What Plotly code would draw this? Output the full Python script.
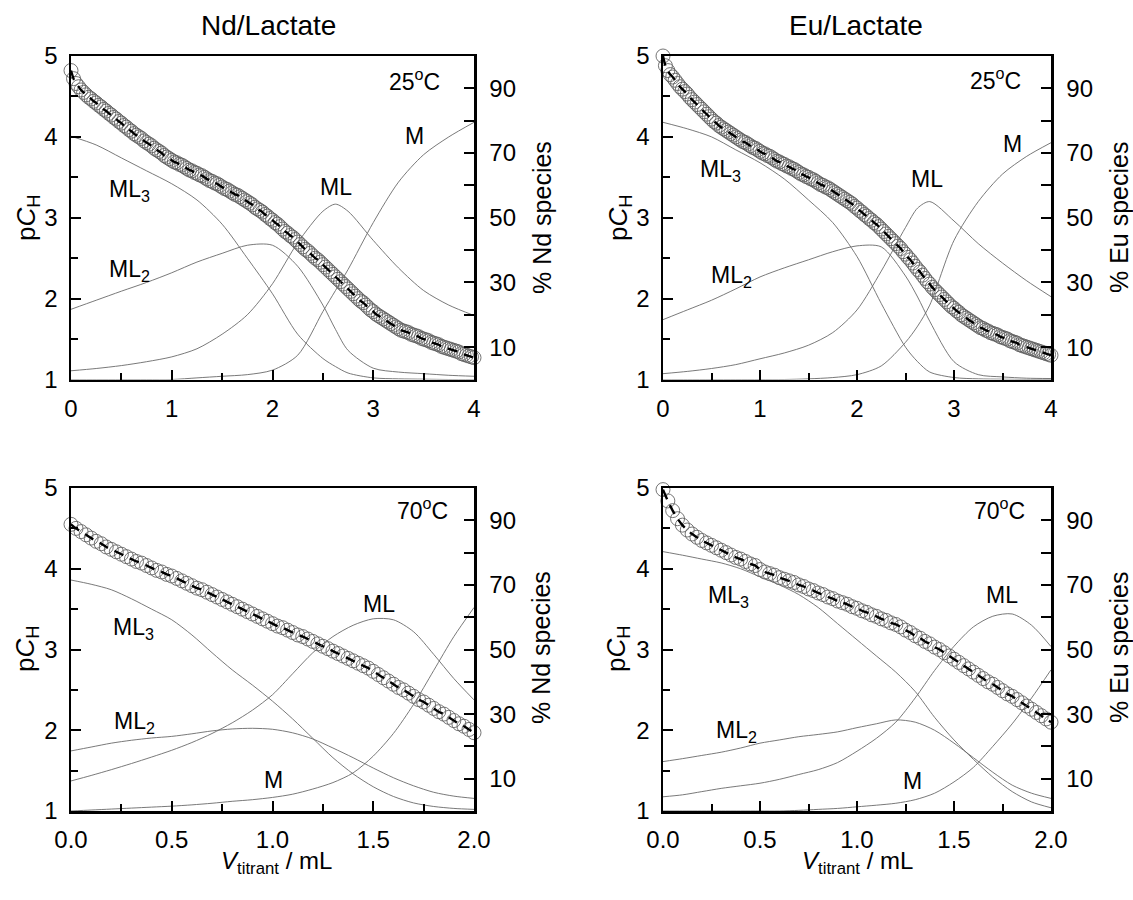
import plotly.graph_objects as go

W, H = 1133, 900
FONT = "Liberation Sans, Arial, sans-serif"

# ---------------- DATA ----------------
# Top row (25 C): titrant volume of measured points (mL)
vol_top = [
    0.000, 0.025, 0.050, 0.075, 0.100, 0.125, 0.150, 0.175, 0.200, 0.225,
    0.250, 0.275, 0.300, 0.325, 0.350, 0.375, 0.400, 0.425, 0.450, 0.475,
    0.500, 0.525, 0.550, 0.575, 0.600, 0.625, 0.650, 0.675, 0.700, 0.725,
    0.750, 0.775, 0.800, 0.825, 0.850, 0.875, 0.900, 0.925, 0.950, 0.975,
    1.000, 1.025, 1.050, 1.075, 1.100, 1.125, 1.150, 1.175, 1.200, 1.225,
    1.250, 1.275, 1.300, 1.325, 1.350, 1.375, 1.400, 1.425, 1.450, 1.475,
    1.500, 1.525, 1.550, 1.575, 1.600, 1.625, 1.650, 1.675, 1.700, 1.725,
    1.750, 1.775, 1.800, 1.825, 1.850, 1.875, 1.900, 1.925, 1.950, 1.975,
    2.000, 2.025, 2.050, 2.075, 2.100, 2.125, 2.150, 2.175, 2.200, 2.225,
    2.250, 2.275, 2.300, 2.325, 2.350, 2.375, 2.400, 2.425, 2.450, 2.475,
    2.500, 2.525, 2.550, 2.575, 2.600, 2.625, 2.650, 2.675, 2.700, 2.725,
    2.750, 2.775, 2.800, 2.825, 2.850, 2.875, 2.900, 2.925, 2.950, 2.975,
    3.000, 3.025, 3.050, 3.075, 3.100, 3.125, 3.150, 3.175, 3.200, 3.225,
    3.250, 3.275, 3.300, 3.325, 3.350, 3.375, 3.400, 3.425, 3.450, 3.475,
    3.500, 3.525, 3.550, 3.575, 3.600, 3.625, 3.650, 3.675, 3.700, 3.725,
    3.750, 3.775, 3.800, 3.825, 3.850, 3.875, 3.900, 3.925, 3.950, 3.975,
    4.000]
nd25_pch = [
    4.82, 4.72, 4.66, 4.62, 4.58, 4.55, 4.52, 4.49, 4.47, 4.44,
    4.42, 4.39, 4.37, 4.34, 4.32, 4.29, 4.27, 4.24, 4.22, 4.19,
    4.17, 4.14, 4.12, 4.09, 4.07, 4.04, 4.02, 4.00, 3.98, 3.95,
    3.93, 3.91, 3.89, 3.86, 3.84, 3.82, 3.80, 3.77, 3.75, 3.73,
    3.71, 3.69, 3.68, 3.66, 3.65, 3.63, 3.61, 3.59, 3.58, 3.56,
    3.55, 3.53, 3.52, 3.50, 3.48, 3.46, 3.45, 3.43, 3.42, 3.40,
    3.38, 3.36, 3.35, 3.33, 3.31, 3.29, 3.28, 3.26, 3.24, 3.22,
    3.20, 3.18, 3.16, 3.13, 3.11, 3.09, 3.07, 3.04, 3.02, 2.99,
    2.97, 2.94, 2.92, 2.89, 2.86, 2.83, 2.81, 2.78, 2.76, 2.73,
    2.70, 2.67, 2.64, 2.61, 2.59, 2.56, 2.53, 2.50, 2.48, 2.45,
    2.42, 2.39, 2.36, 2.33, 2.30, 2.27, 2.24, 2.21, 2.18, 2.15,
    2.12, 2.09, 2.06, 2.03, 2.00, 1.97, 1.95, 1.92, 1.89, 1.86,
    1.84, 1.81, 1.79, 1.77, 1.75, 1.73, 1.71, 1.69, 1.67, 1.65,
    1.63, 1.61, 1.60, 1.59, 1.58, 1.56, 1.55, 1.54, 1.53, 1.51,
    1.50, 1.49, 1.48, 1.46, 1.45, 1.44, 1.43, 1.41, 1.40, 1.39,
    1.38, 1.37, 1.36, 1.35, 1.34, 1.32, 1.31, 1.30, 1.29, 1.28,
    1.27]
eu25_pch = [
    5.00, 4.88, 4.82, 4.77, 4.74, 4.70, 4.66, 4.62, 4.59, 4.56,
    4.53, 4.49, 4.46, 4.43, 4.40, 4.37, 4.34, 4.31, 4.28, 4.25,
    4.22, 4.19, 4.17, 4.14, 4.12, 4.10, 4.08, 4.06, 4.04, 4.02,
    4.00, 3.98, 3.96, 3.94, 3.93, 3.91, 3.89, 3.87, 3.86, 3.84,
    3.82, 3.80, 3.79, 3.77, 3.76, 3.74, 3.72, 3.70, 3.69, 3.67,
    3.66, 3.64, 3.63, 3.61, 3.60, 3.58, 3.56, 3.54, 3.53, 3.51,
    3.50, 3.48, 3.47, 3.45, 3.43, 3.41, 3.40, 3.38, 3.37, 3.35,
    3.33, 3.31, 3.29, 3.27, 3.25, 3.23, 3.21, 3.19, 3.17, 3.14,
    3.12, 3.09, 3.07, 3.04, 3.02, 2.99, 2.97, 2.94, 2.92, 2.89,
    2.86, 2.83, 2.80, 2.77, 2.74, 2.71, 2.68, 2.65, 2.62, 2.58,
    2.55, 2.51, 2.48, 2.44, 2.40, 2.36, 2.33, 2.29, 2.25, 2.21,
    2.18, 2.14, 2.11, 2.08, 2.05, 2.02, 1.99, 1.96, 1.93, 1.90,
    1.88, 1.85, 1.83, 1.80, 1.78, 1.76, 1.74, 1.72, 1.70, 1.68,
    1.66, 1.64, 1.63, 1.61, 1.60, 1.58, 1.57, 1.56, 1.55, 1.53,
    1.52, 1.51, 1.50, 1.48, 1.47, 1.46, 1.45, 1.43, 1.42, 1.41,
    1.40, 1.39, 1.38, 1.37, 1.36, 1.35, 1.34, 1.33, 1.32, 1.31,
    1.30]

# Top row species distribution (% of metal)
sp_vol_top = [0, 0.25, 0.5, 0.75, 1.0, 1.25, 1.5, 1.75, 2.0, 2.25, 2.5, 2.625, 2.75, 3.0, 3.25, 3.5,
              3.75, 4.0]
nd25_ml3 = [75.2, 72.5, 68.5, 64.5, 60.5, 55.5, 48, 37.5, 26.5, 14, 6.5, 4.0, 2.0, 0.5, 0.2, 0.1, 0, 0]
nd25_ml2 = [21.7, 24.5, 27.3, 30, 33, 36.3, 39, 41.5, 41.5, 35, 23, 15.5, 9, 3.5, 2.3, 1.8, 1.3, 1.0]
nd25_ml = [2.7, 3.4, 4.3, 5.5, 7.0, 9.5, 14, 20, 29.6, 42.3, 52, 54.2, 52, 43, 34.5, 27.5, 23, 19.8]
nd25_m = [0, 0, 0, 0, 0, 0.5, 1, 1.5, 2.9, 7.5, 21, 27.5, 34, 48.5, 61, 69.5, 75, 79.5]
eu25_ml3 = [79.5, 77.5, 75, 71, 67, 62, 55.5, 48.5, 38, 23.5, 10, 5.5, 2.3, 0.6, 0.2, 0.1, 0, 0]
eu25_ml2 = [18.5, 21.5, 24.5, 28, 31.7, 34.5, 37, 39.5, 41.3, 41, 32, 25.5, 18, 5.5, 1.5, 0.8, 0.4, 0.3]
eu25_ml = [1.8, 2.5, 3.4, 4.6, 6.4, 8.2, 10.6, 14.5, 21.5, 33.5, 47, 53, 55, 49, 42, 36, 30.5, 25.6]
eu25_m = [0, 0, 0, 0, 0, 0, 0.2, 0.6, 1.5, 4.2, 11.5, 16.5, 23, 43, 55, 63.5, 69, 73.2]

# Bottom row (70 C)
vol_bot = [
    0.000, 0.025, 0.050, 0.075, 0.100, 0.125, 0.150, 0.175, 0.200, 0.225,
    0.250, 0.275, 0.300, 0.325, 0.350, 0.375, 0.400, 0.425, 0.450, 0.475,
    0.500, 0.525, 0.550, 0.575, 0.600, 0.625, 0.650, 0.675, 0.700, 0.725,
    0.750, 0.775, 0.800, 0.825, 0.850, 0.875, 0.900, 0.925, 0.950, 0.975,
    1.000, 1.025, 1.050, 1.075, 1.100, 1.125, 1.150, 1.175, 1.200, 1.225,
    1.250, 1.275, 1.300, 1.325, 1.350, 1.375, 1.400, 1.425, 1.450, 1.475,
    1.500, 1.525, 1.550, 1.575, 1.600, 1.625, 1.650, 1.675, 1.700, 1.725,
    1.750, 1.775, 1.800, 1.825, 1.850, 1.875, 1.900, 1.925, 1.950, 1.975,
    2.000]
nd70_pch = [
    4.55, 4.50, 4.46, 4.42, 4.38, 4.34, 4.31, 4.27, 4.24, 4.21,
    4.18, 4.15, 4.12, 4.09, 4.07, 4.04, 4.01, 3.98, 3.96, 3.93,
    3.91, 3.88, 3.85, 3.82, 3.79, 3.76, 3.74, 3.71, 3.68, 3.65,
    3.62, 3.59, 3.56, 3.53, 3.50, 3.47, 3.44, 3.41, 3.38, 3.35,
    3.32, 3.29, 3.27, 3.24, 3.21, 3.18, 3.16, 3.13, 3.10, 3.07,
    3.04, 3.01, 2.98, 2.95, 2.92, 2.89, 2.86, 2.83, 2.80, 2.77,
    2.73, 2.69, 2.65, 2.61, 2.57, 2.53, 2.50, 2.46, 2.42, 2.38,
    2.35, 2.31, 2.27, 2.23, 2.20, 2.16, 2.12, 2.08, 2.05, 2.01,
    1.97]
eu70_pch = [
    4.98, 4.84, 4.72, 4.62, 4.54, 4.48, 4.43, 4.39, 4.35, 4.32,
    4.29, 4.26, 4.23, 4.20, 4.17, 4.14, 4.12, 4.09, 4.06, 4.04,
    3.99, 3.96, 3.94, 3.92, 3.89, 3.87, 3.85, 3.83, 3.80, 3.78,
    3.75, 3.73, 3.70, 3.68, 3.65, 3.63, 3.60, 3.58, 3.56, 3.53,
    3.51, 3.48, 3.46, 3.43, 3.41, 3.38, 3.36, 3.33, 3.31, 3.28,
    3.24, 3.21, 3.17, 3.14, 3.10, 3.07, 3.03, 3.00, 2.96, 2.92,
    2.88, 2.84, 2.80, 2.76, 2.72, 2.68, 2.64, 2.60, 2.57, 2.53,
    2.49, 2.45, 2.42, 2.38, 2.34, 2.30, 2.26, 2.22, 2.18, 2.14,
    2.10]

sp_vol_bot = [0, 0.1, 0.2, 0.3, 0.4, 0.5, 0.6, 0.7, 0.8, 0.9, 1.0, 1.1, 1.2, 1.3, 1.4, 1.5, 1.6, 1.7,
              1.8, 1.9, 2.0]
nd70_ml3 = [71.5, 70.2, 68.5, 65.7, 62.5, 59.2, 54.5, 49, 43.7, 39, 34, 28.5, 22.5, 16.5, 11.5, 7.5,
            4.5, 2.5, 1.4, 0.8, 0.5]
nd70_ml2 = [18.6, 19.8, 21, 21.9, 22.6, 23.1, 23.9, 24.8, 25.4, 25.6, 25.3, 24.2, 22.3, 19.5, 16.5,
            13.3, 10.3, 7.8, 5.8, 4.6, 3.9]
nd70_ml = [9.3, 11, 12.8, 14.7, 16.7, 18.8, 21.2, 24, 27.3, 31.2, 36, 42.5, 49, 54, 57.5, 59.5, 59.2,
           55.5, 48.5, 41, 34.4]
nd70_m = [0, 0.3, 0.6, 0.9, 1.2, 1.5, 1.9, 2.4, 3, 3.5, 4.2, 5.2, 6.8, 8.8, 11.8, 17, 24, 33, 43.5,
          54, 63]
eu70_ml3 = [80.3, 79.2, 78, 76.8, 75, 72.5, 70, 67, 63, 58, 53, 48, 43, 37, 29, 22, 16, 10.5, 6, 2.8, 1.0]
eu70_ml2 = [15.3, 16.2, 17.2, 18.2, 19.5, 21, 22, 23, 23.7, 24.5, 25.8, 27, 28.2, 27.5, 25, 21, 16.5,
            12, 8, 5.5, 3.9]
eu70_ml = [4.4, 5, 6, 7, 7.8, 8.6, 9.8, 11.3, 12.8, 15, 18.5, 22.5, 27.5, 35, 43.5, 51, 57, 60.3, 61,
           57.5, 50.9]
eu70_m = [0, 0, 0, 0, 0, 0, 0, 0.2, 0.5, 0.8, 1.3, 1.8, 2.4, 3.5, 5.5, 9, 13.5, 20, 27, 35, 43.7]

panel_titles = ["Nd/Lactate", "Eu/Lactate"]
temps = ["25<sup>o</sup>C", "70<sup>o</sup>C"]
right_titles = ["% Nd species", "% Eu species"]
pct_ticks = [10, 20, 30, 40, 50, 60, 70, 80, 90]
pct_text = ["10", "", "30", "", "50", "", "70", "", "90"]

# ---------------- LAYOUT HELPERS ----------------
def px(x):
    return x / W

def py(y):
    return 1 - y / H

col_dom = [[px(71), px(474)], [px(663), px(1051)]]
row_dom = [[py(379.5), py(56)], [py(811), py(488)]]

panels = [
    dict(r=0, c=0, vol=vol_top, pch=nd25_pch, sv=sp_vol_top, sp=[nd25_ml3, nd25_ml2, nd25_ml, nd25_m],
         xr=[0, 4], dt=1, mdt=0.5, fmt="d"),
    dict(r=0, c=1, vol=vol_top, pch=eu25_pch, sv=sp_vol_top, sp=[eu25_ml3, eu25_ml2, eu25_ml, eu25_m],
         xr=[0, 4], dt=1, mdt=0.5, fmt="d"),
    dict(r=1, c=0, vol=vol_bot, pch=nd70_pch, sv=sp_vol_bot, sp=[nd70_ml3, nd70_ml2, nd70_ml, nd70_m],
         xr=[0, 2], dt=0.5, mdt=0.25, fmt=".1f"),
    dict(r=1, c=1, vol=vol_bot, pch=eu70_pch, sv=sp_vol_bot, sp=[eu70_ml3, eu70_ml2, eu70_ml, eu70_m],
         xr=[0, 2], dt=0.5, mdt=0.25, fmt=".1f"),
]

fig = go.Figure()
layout = dict(template="none", width=W, height=H, margin=dict(l=0, r=0, t=0, b=0, pad=0),
              autosize=False, paper_bgcolor="white", plot_bgcolor="white", showlegend=False,
              font=dict(family=FONT, color="black", size=24), hovermode=False)

tickfont = dict(family=FONT, size=24, color="black")
axis_common = dict(showline=True, linecolor="black", linewidth=2.5, ticks="inside", ticklen=10,
                   tickwidth=2, tickcolor="black", showgrid=False, zeroline=False, tickfont=tickfont,
                   automargin=False)

for i, p in enumerate(panels):
    n = i + 1
    xa = f"x{n}" if n > 1 else "x"
    ya = f"y{n}" if n > 1 else "y"
    ra = f"y{n + 4}"
    layout[f"xaxis{n}"] = dict(axis_common, domain=col_dom[p["c"]], range=p["xr"], anchor=ya,
                               mirror=True, tick0=0, dtick=p["dt"], tickformat=p["fmt"],
                               ticklabelstandoff=6,
                               minor=dict(ticks="inside", ticklen=7, tickwidth=2, tickcolor="black",
                                          tick0=0, dtick=p["mdt"], showgrid=False))
    layout[f"yaxis{n}"] = dict(axis_common, domain=row_dom[p["r"]], range=[1, 5], anchor=xa,
                               tick0=1, dtick=1, ticklabelstandoff=6,
                               minor=dict(ticks="inside", ticklen=7, tickwidth=2, tickcolor="black",
                                          tick0=1, dtick=0.5, showgrid=False))
    layout[f"yaxis{n + 4}"] = dict(axis_common, overlaying=ya, side="right", anchor=xa, range=[0, 100],
                                   tickmode="array", tickvals=pct_ticks, ticktext=pct_text,
                                   ticklabelstandoff=8)

    for s in p["sp"]:
        fig.add_trace(go.Scatter(x=p["sv"], y=s, mode="lines", xaxis=xa, yaxis=ra,
                                 line=dict(color="#6a6a6a", width=0.9, shape="spline", smoothing=0.8)))
    fig.add_trace(go.Scatter(x=p["vol"], y=p["pch"], mode="markers", xaxis=xa, yaxis=ya, cliponaxis=False,
                             marker=dict(symbol="circle-open", size=14, color="#5c5c5c",
                                         line=dict(width=0.85, color="#5c5c5c"))))
    fig.add_trace(go.Scatter(x=p["vol"], y=p["pch"], mode="lines", xaxis=xa, yaxis=ya,
                             line=dict(color="black", width=2.4, dash="10px,7px", shape="spline",
                                       smoothing=0.6)))

ann = []

def add_text(text, x, y, xanchor="center", size=23, angle=0):
    ann.append(dict(text=text, x=px(x), y=py(y), xref="paper", yref="paper", showarrow=False,
                    xanchor=xanchor, yanchor="middle", textangle=angle,
                    font=dict(family=FONT, size=size, color="black")))

# panel titles
add_text(panel_titles[0], 268, 25, size=28)
add_text(panel_titles[1], 856, 25, size=28)
# temperatures
add_text(temps[0], 442, 80, xanchor="right")
add_text(temps[0], 1023, 79, xanchor="right")
add_text(temps[1], 450, 509, xanchor="right")
add_text(temps[1], 1027, 509, xanchor="right")
# species labels
add_text("ML<sub>3</sub>", 107, 190, xanchor="left")
add_text("ML<sub>2</sub>", 107, 270, xanchor="left")
add_text("ML", 336, 187)
add_text("M", 414, 136)
add_text("ML<sub>3</sub>", 698, 171, xanchor="left")
add_text("ML<sub>2</sub>", 709, 276, xanchor="left")
add_text("ML", 927, 179)
add_text("M", 1012, 144)
add_text("ML<sub>3</sub>", 111, 628, xanchor="left")
add_text("ML<sub>2</sub>", 112, 722, xanchor="left")
add_text("ML", 379, 604)
add_text("M", 273, 780)
add_text("ML<sub>3</sub>", 706, 596, xanchor="left")
add_text("ML<sub>2</sub>", 714, 731, xanchor="left")
add_text("ML", 1002, 595)
add_text("M", 912, 781)
# axis titles
for (xl, yc) in [(27, 218), (619, 218), (26, 649), (617, 649)]:
    add_text("p<i>C</i><sub>H</sub>", xl, yc, size=26, angle=-90)
add_text(right_titles[0], 542, 218, size=25, angle=-90)
add_text(right_titles[1], 1119, 218, size=25, angle=-90)
add_text(right_titles[0], 541, 648, size=25, angle=-90)
add_text(right_titles[1], 1119, 648, size=25, angle=-90)
add_text("<i>V</i><sub>titrant</sub> / mL", 276, 862, size=24)
add_text("<i>V</i><sub>titrant</sub> / mL", 857, 862, size=24)

layout["annotations"] = ann
fig.update_layout(**layout)
fig.write_html("out.html", config={"displayModeBar": False, "staticPlot": True},
               post_script="document.body.style.margin='0';document.body.style.overflow='hidden';")
